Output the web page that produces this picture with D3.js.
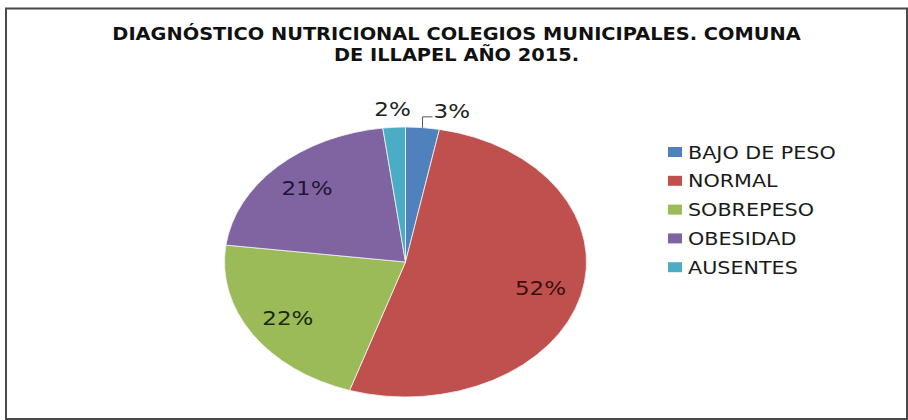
<!DOCTYPE html>
<html>
<head>
<meta charset="utf-8">
<script src="https://cdn.jsdelivr.net/npm/d3@7"></script>
<style>
  body { margin: 0; background: #fff; }
  svg { display: block; }
</style>
</head>
<body>
<div id="viz"></div>
<script>
/* Pie chart: diagnostico nutricional, Illapel 2015 */

var titleLines = ['DIAGNÓSTICO NUTRICIONAL COLEGIOS MUNICIPALES. COMUNA', 'DE ILLAPEL AÑO 2015.'];
var categories = ['BAJO DE PESO', 'NORMAL', 'SOBREPESO', 'OBESIDAD', 'AUSENTES'];
var values = [3, 52, 22, 21, 2];
var sliceColors = ['#4F81BD', '#C0504D', '#9BBB59', '#8064A2', '#4BACC6'];
var labelColors = ['#222222', '#3c1010', '#1b2a0c', '#1e1636', '#222222'];

var width = 908,
    height = 420,
    cx = 405.5,
    cy = 262,
    rx = 181,
    ry = 135,
    stretch = 1.15;

var svg = d3.select('#viz').append('svg')
    .attr('width', width)
    .attr('height', height);

// frame
svg.append('rect')
    .attr('x', 6)
    .attr('y', 8.5)
    .attr('width', 901)
    .attr('height', 410.5)
    .attr('fill', '#fff')
    .attr('stroke', '#4a4a4a')
    .attr('stroke-width', 2);

// title
svg.append('g')
    .selectAll('text')
    .data(titleLines)
    .enter().append('text')
    .attr('transform', function(d, i) {
      return 'translate(456.5,' + (39.5 + i * 21) + ') scale(1.14,1)';
    })
    .attr('text-anchor', 'middle')
    .attr('font-family', 'DejaVu Sans, sans-serif')
    .attr('font-weight', 'bold')
    .attr('font-size', '17px')
    .attr('fill', '#111')
    .text(function(d) { return d; });

var pie = d3.pie().sort(null).value(function(d) { return d; });
var arcs = pie(values);

var arc = d3.arc()
    .innerRadius(0)
    .outerRadius(ry);

// point on the (stretched) pie at a given angle and radius fraction
function pt(angle, k) {
  return [cx + Math.sin(angle) * rx * k, cy - Math.cos(angle) * ry * k];
}

var pieG = svg.append('g')
    .attr('transform', 'translate(' + cx + ',' + cy + ') scale(' + (rx / ry) + ',1)');

pieG.selectAll('path')
    .data(arcs)
    .enter().append('path')
    .attr('d', arc)
    .attr('fill', function(d, i) { return sliceColors[i]; })
    .attr('stroke', '#f4f4f4')
    .attr('stroke-width', 0.8)
    .attr('vector-effect', 'non-scaling-stroke');

// labels
var labelG = svg.append('g')
    .attr('font-family', 'DejaVu Sans, sans-serif')
    .attr('font-size', '20px');

arcs.forEach(function(d, i) {
  var mid = (d.startAngle + d.endAngle) / 2,
      txt = values[i] + '%',
      p;

  if (values[i] >= 10) {
    p = pt(mid, 0.77);
    labelG.append('text')
      .attr('transform', 'translate(' + p[0] + ',' + (p[1] + 7) + ') scale(' + stretch + ',1)')
      .attr('text-anchor', 'middle')
      .attr('fill', labelColors[i])
      .text(txt);
  } else if (i === 0) {
    // small slice on the right of the top: leader line
    var e = pt(mid, 1),
        k = pt(mid, 1.08);
    svg.append('path')
      .attr('d', 'M' + e[0] + ',' + e[1] + 'V' + k[1] + 'H' + (e[0] + 10))
      .attr('fill', 'none')
      .attr('stroke', '#555')
      .attr('stroke-width', 1);
    labelG.append('text')
      .attr('transform', 'translate(' + (e[0] + 11) + ',' + (k[1] + 1) + ') scale(' + stretch + ',1)')
      .attr('text-anchor', 'start')
      .attr('fill', labelColors[i])
      .text(txt);
  } else {
    p = pt(mid, 1.135);
    labelG.append('text')
      .attr('transform', 'translate(' + p[0] + ',' + (p[1] + 7) + ') scale(' + stretch + ',1)')
      .attr('text-anchor', 'middle')
      .attr('fill', labelColors[i])
      .text(txt);
  }
});

// legend
var legend = svg.append('g')
    .attr('font-family', 'DejaVu Sans, sans-serif')
    .attr('font-size', '18px')
    .selectAll('g')
    .data(categories)
    .enter().append('g')
    .attr('transform', function(d, i) {
      return 'translate(668,' + (152 + i * 28.8) + ')';
    });

legend.append('rect')
    .attr('x', 0)
    .attr('y', -5)
    .attr('width', 14)
    .attr('height', 10)
    .attr('fill', function(d, i) { return sliceColors[i]; });

legend.append('text')
    .attr('transform', 'translate(20,6.6) scale(' + stretch + ',1)')
    .attr('fill', '#1a1a1a')
    .text(function(d) { return d; });
</script>
</body>
</html>
